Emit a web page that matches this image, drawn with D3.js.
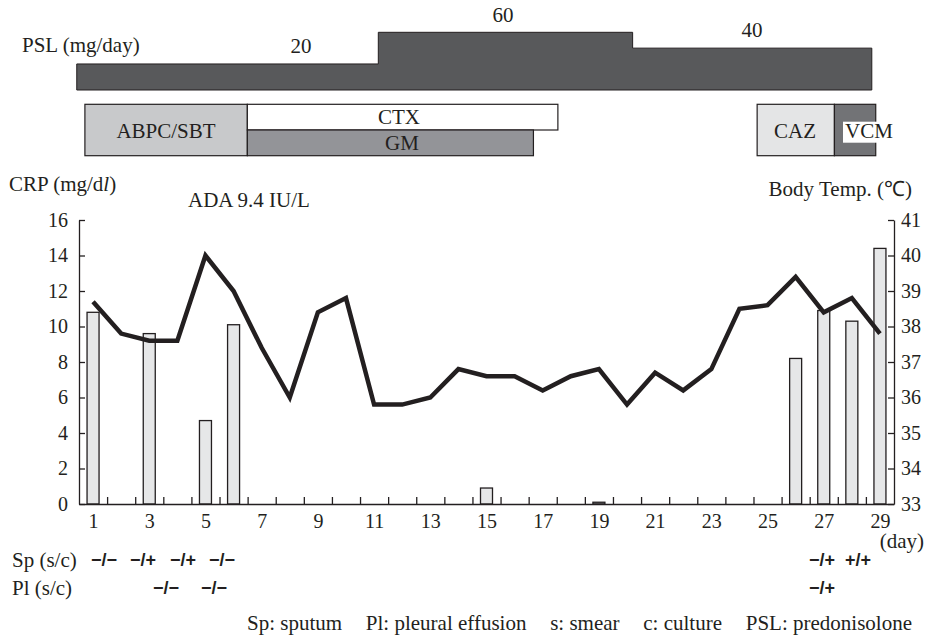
<!DOCTYPE html>
<html>
<head>
<meta charset="utf-8">
<script src="https://cdn.jsdelivr.net/npm/d3@7"></script>
<style>
  body { margin: 0; background: #fff; }
  svg { display: block; }
</style>
</head>
<body>
<svg id="chart" width="930" height="643"></svg>
<script>
// ---------- DATA ----------
const days = d3.range(1, 30);
const tickDays = [1, 3, 5, 7, 9, 11, 13, 15, 17, 19, 21, 23, 25, 27, 29];
const temperature = [38.7, 37.8, 37.6, 37.6, 40.0, 39.0, 37.4, 36.0, 38.4, 38.8,
                     35.8, 35.8, 36.0, 36.8, 36.6, 36.6, 36.2, 36.6, 36.8, 35.8,
                     36.7, 36.2, 36.8, 38.5, 38.6, 39.4, 38.4, 38.8, 37.8];
const crpDays = [1, 3, 5, 6, 15, 19, 26, 27, 28, 29];
const crpValues = [10.8, 9.6, 4.7, 10.1, 0.9, 0.1, 8.2, 10.9, 10.3, 14.4];
const crpTicks = [0, 2, 4, 6, 8, 10, 12, 14, 16];
const tempTicks = [33, 34, 35, 36, 37, 38, 39, 40, 41];

// PSL dose periods (day start, day end, mg/day)
const pslStart = [0.42, 11.15, 20.2];
const pslEnd = [11.15, 20.2, 28.71];
const pslDose = [20, 60, 40];

// Antibiotics
const abxNames = ["ABPC/SBT", "CTX", "GM", "CAZ", "VCM"];
const abxStart = [0.71, 6.49, 6.49, 24.63, 27.38];
const abxEnd = [6.49, 17.54, 16.67, 27.38, 28.85];
const abxRow = ["full", "top", "bottom", "full", "full"];
const abxFill = ["#c8c9cb", "#ffffff", "#939498", "#e4e5e6", "#727376"];

// Smear / culture results
const spLabels = ["−/−", "−/+", "−/+", "−/−", "−/+", "+/+"];
const spPos = [1.39, 2.78, 4.20, 5.59, 26.94, 28.22];
const plLabels = ["−/−", "−/−", "−/+"];
const plPos = [3.6, 5.3, 26.94];

const footnotes = ["Sp: sputum", "Pl: pleural effusion", "s: smear", "c: culture", "PSL: predonisolone"];

// ---------- SETUP ----------
const svg = d3.select("#chart");
const ink = "#231f20";
const SERIF = "'Liberation Serif', 'Times New Roman', Times, serif";
const SANS = "'Liberation Sans', Arial, sans-serif";
function txt(xp, yp, s, size, anchor) {
  return svg.append("text").attr("x", xp).attr("y", yp)
    .attr("text-anchor", anchor || "start")
    .style("font-family", SERIF).style("font-size", (size || 21) + "px")
    .style("fill", ink).text(s);
}

const x = d3.scaleLinear().domain([0.5, 29.5]).range([79, 894]);
const yCrp = d3.scaleLinear().domain([0, 16]).range([504, 220]);
const yTemp = d3.scaleLinear().domain([33, 41]).range([504, 220]);
const yDose = d3.scaleLinear().domain([0, 60]).range([79.8, 32.3]);
const pslBottom = 90;

// ---------- PSL ----------
const pslPts = [];
pslStart.forEach((s, i) => {
  pslPts.push([x(s), yDose(pslDose[i])]);
  pslPts.push([x(pslEnd[i]), yDose(pslDose[i])]);
});
const pslPath = [[x(pslStart[0]), pslBottom], ...pslPts, [x(pslEnd[pslEnd.length - 1]), pslBottom]];
svg.append("path")
  .attr("d", d3.line()(pslPath) + "Z")
  .attr("fill", "#58595b").attr("stroke", ink).attr("stroke-width", 1);
const pslLabelX = [301, 503, 752];
const pslLabelY = [53, 22, 37];
pslDose.forEach((d, i) => txt(pslLabelX[i], pslLabelY[i], d, 21, "middle"));
txt(22, 52, "PSL (mg/day)");

// ---------- Antibiotics ----------
const abxTop = 104.3, abxMid = 130, abxBot = 155.7;
abxNames.forEach((n, i) => {
  const y0 = abxRow[i] === "bottom" ? abxMid : abxTop;
  const y1 = abxRow[i] === "top" ? abxMid : abxBot;
  svg.append("rect").attr("x", x(abxStart[i])).attr("y", y0)
    .attr("width", x(abxEnd[i]) - x(abxStart[i])).attr("height", y1 - y0)
    .attr("fill", abxFill[i]).attr("stroke", ink).attr("stroke-width", 1.2);
});
txt(166, 138, abxNames[0], 21, "middle");
txt(399, 124, abxNames[1], 21, "middle");
txt(402, 150, abxNames[2], 21, "middle");
txt(795, 138, abxNames[3], 21, "middle");
svg.append("rect").attr("x", 843).attr("y", 121.7).attr("width", 52).attr("height", 21).attr("fill", "#fff");
txt(845, 138, abxNames[4]);

// ---------- Bars ----------
const barW = 12;
svg.selectAll(".bar").data(crpDays).enter().append("rect")
  .attr("x", (d) => x(d) - barW / 2)
  .attr("y", (d, i) => yCrp(crpValues[i]))
  .attr("width", barW)
  .attr("height", (d, i) => yCrp(0) - yCrp(crpValues[i]))
  .attr("fill", (d, i) => crpValues[i] < 0.5 ? "#9a9b9d" : "#e6e7e8")
  .attr("stroke", ink).attr("stroke-width", 1.3);

// ---------- Temperature line ----------
svg.append("path")
  .datum(temperature)
  .attr("d", d3.line().x((d, i) => x(days[i])).y((d) => yTemp(d)))
  .attr("fill", "none").attr("stroke", ink).attr("stroke-width", 4.5)
  .attr("stroke-linejoin", "miter");

// ---------- Axes ----------
const gL = svg.append("g").attr("transform", "translate(79,0)")
  .call(d3.axisLeft(yCrp).tickValues(crpTicks).tickSizeInner(-6).tickSizeOuter(0).tickPadding(11));
const gR = svg.append("g").attr("transform", "translate(894,0)")
  .call(d3.axisRight(yTemp).tickValues(tempTicks).tickSizeInner(-6).tickSizeOuter(0).tickPadding(7));
const gB = svg.append("g").attr("transform", "translate(0,504)")
  .call(d3.axisBottom(x).tickValues(d3.range(1.5, 29.5, 1)).tickSizeInner(-7).tickSizeOuter(0).tickFormat(""));
const gB2 = svg.append("g").attr("transform", "translate(0,504)")
  .call(d3.axisBottom(x).tickValues(tickDays).tickSize(0).tickPadding(10));
gB2.select(".domain").remove();
[gL, gR, gB, gB2].forEach((g) => {
  g.attr("font-family", null).attr("font-size", null);
  g.selectAll("path.domain").attr("stroke", ink).attr("stroke-width", 1.3);
  g.selectAll(".tick line").attr("stroke", ink).attr("stroke-width", 1.3);
  g.selectAll("text").style("font-family", SERIF).style("font-size", "20px").style("fill", ink);
});

// Axis titles
const crpT = txt(9, 191, null);
crpT.append("tspan").text("CRP (mg/d");
crpT.append("tspan").style("font-style", "italic").text("l");
crpT.append("tspan").text(")");
txt(188, 207, "ADA 9.4 IU/L");
txt(912, 196, "Body Temp. (℃)", 21, "end");
txt(924, 548, "(day)", 21, "end");

// ---------- Smear / culture rows ----------
txt(12, 567, "Sp (s/c)");
txt(12, 595, "Pl (s/c)");
function sym(xp, yp, s) {
  svg.append("text").attr("x", xp).attr("y", yp).attr("text-anchor", "middle")
    .style("font-family", SANS).style("font-weight", "bold").style("font-size", "18px")
    .style("fill", ink).text(s);
}
spLabels.forEach((l, i) => sym(x(spPos[i]), 566, l));
plLabels.forEach((l, i) => sym(x(plPos[i]), 594, l));

// ---------- Footnotes (evenly spread between 247 and 912) ----------
const fn = footnotes.map((f) => txt(0, 630, f));
const widths = fn.map((t) => t.node().getComputedTextLength());
const fnLeft = 247, fnRight = 912;
const gap = (fnRight - fnLeft - d3.sum(widths)) / (footnotes.length - 1);
let cx = fnLeft;
fn.forEach((t, i) => { t.attr("x", cx); cx += widths[i] + gap; });
</script>
</body>
</html>
